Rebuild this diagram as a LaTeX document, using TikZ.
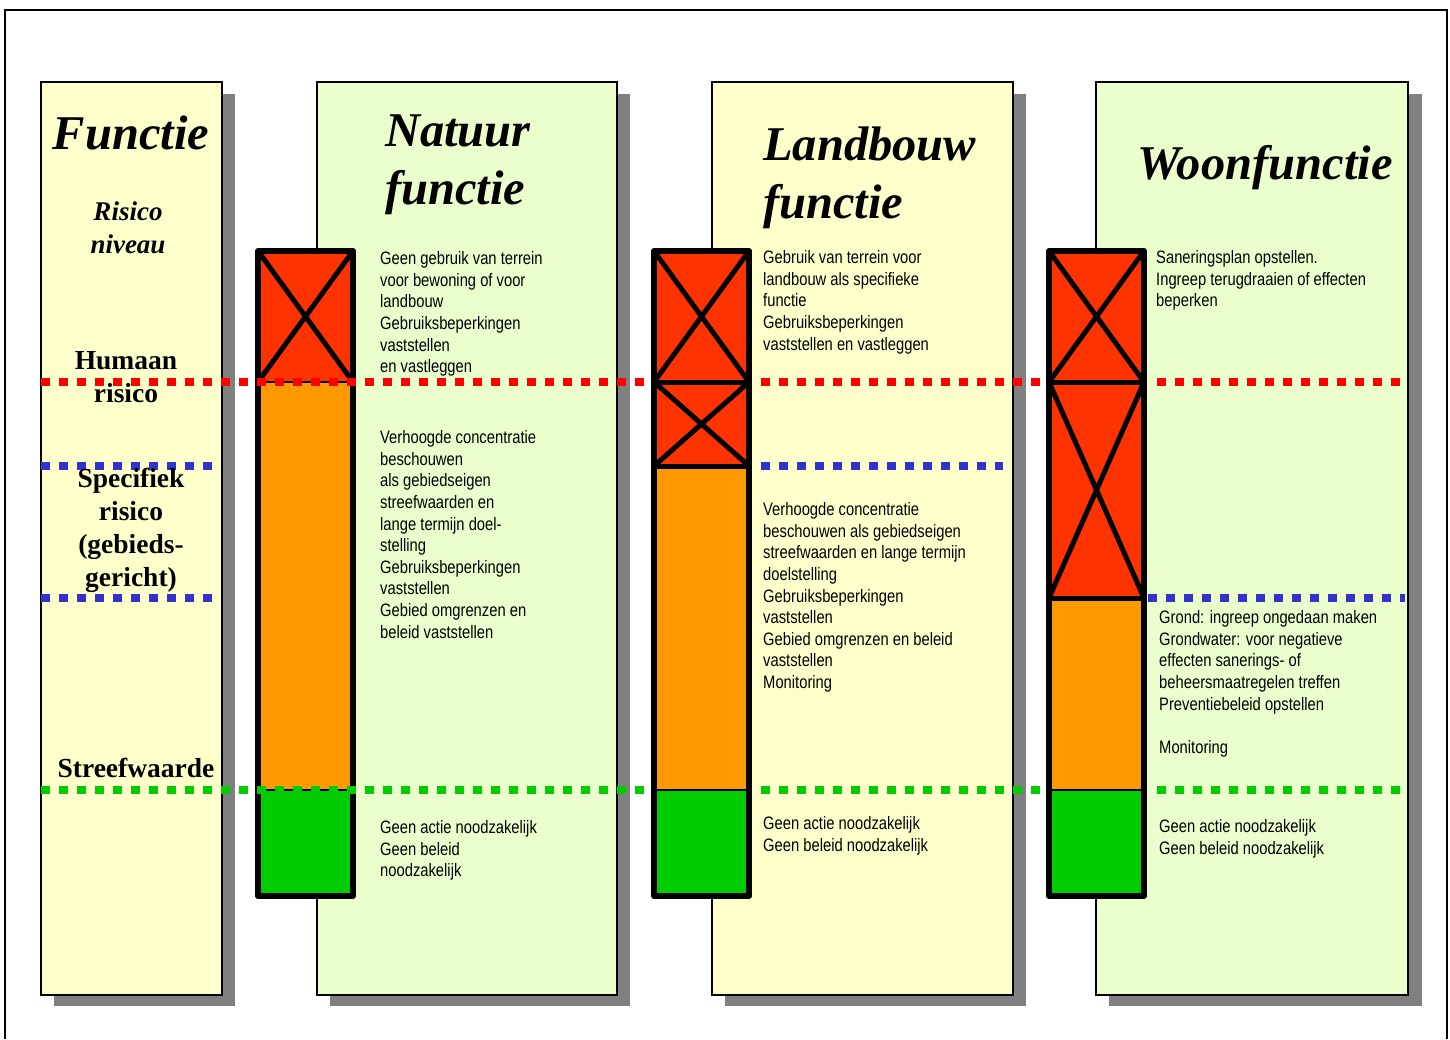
\documentclass[tikz,border=0pt]{standalone}
\usepackage{fontspec}
\setmainfont{Liberation Serif}
\newfontfamily\narrowsans[FakeStretch=0.82]{Liberation Sans}
\definecolor{pyellow}{RGB}{255,255,204}
\definecolor{pgreen}{RGB}{234,255,204}
\definecolor{shadowgray}{RGB}{128,128,128}
\definecolor{barred}{RGB}{255,51,0}
\definecolor{barorange}{RGB}{255,153,0}
\definecolor{bargreen}{RGB}{0,204,0}
\definecolor{dotred}{RGB}{255,0,0}
\definecolor{dotblue}{RGB}{51,51,204}
\definecolor{dotgreen}{RGB}{0,204,0}
\tikzset{
  colbox/.style={draw=black, line width=1.5pt, inner sep=0pt, outer sep=0pt, anchor=north west, minimum height=913pt},
  colshadow/.style={fill=shadowgray},
  coltitle/.style={font=\fontsize{48.5}{58}\selectfont\bfseries\itshape, inner sep=0pt},
  sidelabel/.style={font=\fontsize{27.5}{33}\selectfont\bfseries, align=center, inner sep=0pt},
  sideitalic/.style={font=\fontsize{27}{33}\selectfont\bfseries\itshape, align=center, inner sep=0pt},
  bodytext/.style={font=\narrowsans\fontsize{18}{21.6}\selectfont, align=left, anchor=north west, inner sep=0pt},
  dotline/.style={line width=8.5pt, dash pattern=on 9pt off 9pt},
  barborder/.style={line width=6pt, line join=round},
  crossline/.style={line width=5pt},
  thickdiv/.style={line width=5pt},
  thindiv/.style={line width=1.5pt}
}
\begin{document}
\begin{tikzpicture}[x=1pt,y=-1pt]
\useasboundingbox (0,0) rectangle (1450,1039);
% outer frame
\draw[line width=2pt] (5,1039) -- (5,10) -- (1447,10) -- (1447,1039);

% column shadows
\fill[colshadow] (54,94) rectangle (235,1006);
\fill[colshadow] (330,94) rectangle (630,1006);
\fill[colshadow] (725,94) rectangle (1026,1006);
\fill[colshadow] (1109,94) rectangle (1422,1006);

% columns
\node[colbox, fill=pyellow, minimum width=181pt] (c1) at (41,82) {};
\node[colbox, fill=pgreen, minimum width=300pt] (c2) at (317,82) {};
\node[colbox, fill=pyellow, minimum width=301pt] (c3) at (712,82) {};
\node[colbox, fill=pgreen, minimum width=312pt] (c4) at (1096,82) {};

% bar 1 (Natuur)
\fill[barred] (258,251) rectangle (353,382);
\fill[barorange] (258,382) rectangle (353,790);
\fill[bargreen] (258,790) rectangle (353,896);
\draw[crossline] (258,251) -- (353,382) (353,251) -- (258,382);
\draw[thindiv] (258,382) -- (353,382) (258,790) -- (353,790);
\draw[barborder] (258,251) rectangle (353,896);

% bar 2 (Landbouw)
\fill[barred] (654,251) rectangle (749,466);
\fill[barorange] (654,466) rectangle (749,790);
\fill[bargreen] (654,790) rectangle (749,896);
\draw[crossline] (654,251) -- (749,382) (749,251) -- (654,382);
\draw[crossline] (654,382) -- (749,466) (749,382) -- (654,466);
\draw[thickdiv] (654,382) -- (749,382) (654,466) -- (749,466);
\draw[thindiv] (654,790) -- (749,790);
\draw[barborder] (654,251) rectangle (749,896);

% bar 3 (Woon)
\fill[barred] (1049,251) rectangle (1144,598);
\fill[barorange] (1049,598) rectangle (1144,790);
\fill[bargreen] (1049,790) rectangle (1144,896);
\draw[crossline] (1049,251) -- (1144,382) (1144,251) -- (1049,382);
\draw[crossline] (1049,382) -- (1144,598) (1144,382) -- (1049,598);
\draw[thickdiv] (1049,382) -- (1144,382) (1049,598) -- (1144,598);
\draw[thindiv] (1049,790) -- (1144,790);
\draw[barborder] (1049,251) rectangle (1144,896);

% dotted level lines
\draw[dotline, dotred] (41,382) -- (645,382);
\draw[dotline, dotred] (761,382) -- (1040,382);
\draw[dotline, dotred] (1157,382) -- (1400,382);
\draw[dotline, dotblue] (41,466) -- (213,466);
\draw[dotline, dotblue] (761,466) -- (1003,466);
\draw[dotline, dotblue] (41,598) -- (213,598);
\draw[dotline, dotblue] (1148,598) -- (1405,598);
\draw[dotline, dotgreen] (41,790) -- (645,790);
\draw[dotline, dotgreen] (761,790) -- (1040,790);
\draw[dotline, dotgreen] (1157,790) -- (1400,790);

% column 1 labels
\node[coltitle] (h1) at (131,133) {Functie};
\node[sideitalic] (s1) at (128,228) {Risico\\niveau};
\node[sidelabel] (s2) at (126,377) {Humaan\\risico};
\node[sidelabel] (s3) at (131,530) {Specifiek\\risico\\(gebieds-\\gericht)};
\node[sidelabel] (s4) at (136,768) {Streefwaarde};

% titles
\node[coltitle, align=left, anchor=north west] (h2) at (385,115) {Natuur\\functie};
\node[coltitle, align=left, anchor=north west] (h3) at (763,127) {Landbouw\\functie};
\node[coltitle] (h4) at (1265,168) {Woonfunctie};

% body texts
\node[bodytext] (t1) at (380,251.5) {Geen gebruik van terrein\\voor bewoning of voor\\landbouw\\Gebruiksbeperkingen\\vaststellen\\en vastleggen};
\node[bodytext] (t2) at (380,430.5) {Verhoogde concentratie\\beschouwen\\als gebiedseigen\\streefwaarden en\\lange termijn doel-\\stelling\\Gebruiksbeperkingen\\vaststellen\\Gebied omgrenzen en\\beleid vaststellen};
\node[bodytext] (t3) at (380,820.5) {Geen actie noodzakelijk\\Geen beleid\\noodzakelijk};
\node[bodytext] (t4) at (763,250.5) {Gebruik van terrein voor\\landbouw als specifieke\\functie\\Gebruiksbeperkingen\\vaststellen en vastleggen};
\node[bodytext] (t5) at (763,502.5) {Verhoogde concentratie\\beschouwen als gebiedseigen\\streefwaarden en lange termijn\\doelstelling\\Gebruiksbeperkingen\\vaststellen\\Gebied omgrenzen en beleid\\vaststellen\\Monitoring};
\node[bodytext] (t6) at (763,816.5) {Geen actie noodzakelijk\\Geen beleid noodzakelijk};
\node[bodytext] (t7) at (1156,250.5) {Saneringsplan opstellen.\\Ingreep terugdraaien of effecten\\beperken};
\node[bodytext] (t8) at (1159,610.5) {Grond: ingreep ongedaan maken\\Grondwater: voor negatieve\\effecten sanerings- of\\beheersmaatregelen treffen\\Preventiebeleid opstellen\\[21.6pt]Monitoring};
\node[bodytext] (t9) at (1159,819.5) {Geen actie noodzakelijk\\Geen beleid noodzakelijk};
\end{tikzpicture}
\end{document}
